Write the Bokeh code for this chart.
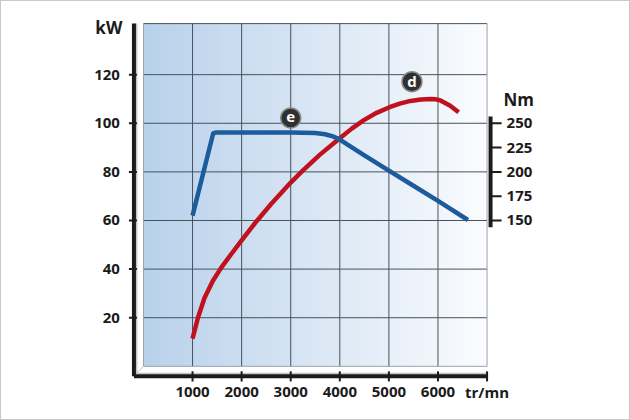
import numpy as np
from bokeh.plotting import figure
from bokeh.models import Range1d
from bokeh.core.properties import value
from bokeh.embed import file_html
from bokeh.resources import INLINE

# ---- data ----
rpm_ticks = [1000, 2000, 3000, 4000, 5000, 6000, 7000]
rpm_labels = ["1000", "2000", "3000", "4000", "5000", "6000", "tr/mn"]
kw_ticks = [20, 40, 60, 80, 100, 120]
kw_labels = ["20", "40", "60", "80", "100", "120"]
nm_ticks = [150, 175, 200, 225, 250]
nm_labels = ["150", "175", "200", "225", "250"]

# curve "e" (torque, read on the kW grid)
e_rpm = [1000, 1420, 1480, 2000, 2500, 3000, 3500, 3700, 3860, 4000, 4500, 5000, 5500, 6000, 6610]
e_val = [62, 95.8, 96.2, 96.2, 96.2, 96.2, 96.0, 95.5, 94.6, 93.3, 86.8, 80.5, 74.3, 68.1, 60.2]

# curve "d" (power, kW)
d_rpm = [1000, 1110, 1245, 1415, 1585, 1790, 2000, 2300, 2610, 3000, 3250, 3590, 4000, 4250,
         4490, 4750, 5000, 5220, 5440, 5650, 5845, 5950, 6050, 6250, 6420]
d_val = [11.4, 20.0, 28.2, 35.2, 40.6, 46.2, 51.8, 59.6, 67.0, 75.6, 80.6, 87.0, 93.8, 97.9,
         101.3, 104.3, 106.5, 108.1, 109.2, 109.8, 110.0, 109.9, 109.4, 107.2, 104.5]

tags = ["e", "d"]
tag_rpm = [3000, 5470]
tag_val = [102.2, 117.1]

# ---- layout constants (data units of the full-canvas frame) ----
X0, X1 = 0, 7000          # plot area
Y0, Y1 = 0, 141
PX = 20.437               # rpm per pixel
PY = 1 / 2.419            # kW per pixel
XL = -194                 # left axis bar
YB = -4.13                # bottom axis bar
XR = 7071                 # right axis bar
NM_BOUNDS = (143, 257)
YS, YE = -22.7, 150.1
XS = -2892

FONT = value("Open Sans")
TXT = "#1b1b1b"
BAR = "#1b1b1b"

p = figure(width=630, height=420,
           x_range=Range1d(XS, XS + 628 * PX), y_range=Range1d(YS, YE),
           min_border=0, toolbar_location=None, output_backend="svg",
           x_axis_location=None, y_axis_location=None)
p.xgrid.visible = False
p.ygrid.visible = False
p.outline_line_color = None
p.background_fill_color = "white"
p.border_fill_color = "white"
p.styles = {"border": "1px solid #c8c8c8", "box-sizing": "border-box"}
p.extra_y_ranges = {"nm": Range1d(150 + (YS - 60) * 2.5, 150 + (YE - 60) * 2.5)}

# background gradient (style)
n = 256
c0 = np.array([184, 209, 235])
c1 = np.array([251, 252, 254])
t = np.linspace(0, 1, n)
rgb = (c0[None, :] + (c1 - c0)[None, :] * t[:, None]).round().astype(np.uint32)
img = np.empty((1, n), dtype=np.uint32)
img[0, :] = (255 << 24) | (rgb[:, 2] << 16) | (rgb[:, 1] << 8) | rgb[:, 0]
p.image_rgba(image=[img], x=X0, y=Y0, dw=X1 - X0, dh=Y1 - Y0)

# bevel shading between axis bars and plot area
p.segment(x0=[XL + 2.5 * PX, XL], y0=[YB, YB + 2.5 * PY], x1=[XL + 2.5 * PX, X1],
          y1=[Y1, YB + 2.5 * PY], line_color="#c4c4c4", line_width=2)
p.segment(x0=[XL], y0=[YB], x1=[X0], y1=[Y0], line_color="#c4c4c4", line_width=1)

# grid
vx = [x for x in rpm_ticks if x < X1]
p.segment(x0=vx, y0=[Y0] * len(vx), x1=vx, y1=[Y1] * len(vx), line_color="#46525c", line_width=1)
p.segment(x0=[X0] * len(kw_ticks), y0=kw_ticks, x1=[X1] * len(kw_ticks), y1=kw_ticks,
          line_color="#46525c", line_width=1)
p.segment(x0=[X0], y0=[Y1], x1=[X1], y1=[Y1], line_color="#46525c", line_width=1)
p.segment(x0=[X0, X0, X1], y0=[Y0, Y0, Y0], x1=[X0, X1, X1], y1=[Y1, Y0, Y1],
          line_color="#9aa3aa", line_width=1)

# curves
p.line(d_rpm, d_val, line_color="#c0111f", line_width=4.5, line_join="round")
p.line(e_rpm, e_val, line_color="#1c5b9c", line_width=4.5, line_join="round")

# tags
p.scatter(tag_rpm, tag_val, size=20, fill_color="#303030", line_color="#8a8a8a", line_width=1.5)
p.text(tag_rpm, tag_val, text=tags, text_color="white", text_font=FONT, text_font_style="bold",
       text_font_size="15px", text_align="center", text_baseline="middle", y_offset=-1)

# left axis (kW)
p.segment(x0=[XL], y0=[YB], x1=[XL], y1=[Y1], line_color=BAR, line_width=4)
p.segment(x0=[XL - 5 * PX] * len(kw_ticks), y0=kw_ticks, x1=[XL + 3 * PX] * len(kw_ticks),
          y1=kw_ticks, line_color=BAR, line_width=2)
p.text([XL - 14 * PX] * len(kw_ticks), kw_ticks, text=kw_labels, text_font=FONT,
       text_font_style="bold", text_font_size="15px", text_color=TXT,
       text_align="right", text_baseline="middle")
p.text([XL - 25 * PX], [Y1 - 1.7], text=["kW"], text_font=FONT, text_font_style="bold",
       text_font_size="17px", text_color=TXT, text_align="center", text_baseline="middle")

# bottom axis (rpm)
p.segment(x0=[XL], y0=[YB], x1=[X1], y1=[YB], line_color=BAR, line_width=4)
p.segment(x0=rpm_ticks, y0=[YB + 5 * PY] * len(rpm_ticks), x1=rpm_ticks,
          y1=[YB - 5 * PY] * len(rpm_ticks), line_color=BAR, line_width=2)
p.text(rpm_ticks, [YB - 16 * PY] * len(rpm_ticks), text=rpm_labels, text_font=FONT,
       text_font_style="bold", text_font_size="15px", text_color=TXT,
       text_align="center", text_baseline="middle")

# right axis (Nm)
p.segment(x0=[XR], y0=[NM_BOUNDS[0]], x1=[XR], y1=[NM_BOUNDS[1]], line_color=BAR, line_width=4,
          y_range_name="nm")
p.segment(x0=[XR] * len(nm_ticks), y0=nm_ticks, x1=[XR + 11 * PX] * len(nm_ticks), y1=nm_ticks,
          line_color=BAR, line_width=2, y_range_name="nm")
p.text([XR + 16 * PX] * len(nm_ticks), nm_ticks, text=nm_labels, text_font=FONT,
       text_font_style="bold", text_font_size="15px", text_color=TXT,
       text_align="left", text_baseline="middle", y_range_name="nm")
p.text([XR + 28 * PX], [NM_BOUNDS[1] + 17.5], text=["Nm"], text_font=FONT, text_font_style="bold",
       text_font_size="17px", text_color=TXT, text_align="center", text_baseline="middle",
       y_range_name="nm")

open("out.html", "w").write(file_html(p, INLINE))
